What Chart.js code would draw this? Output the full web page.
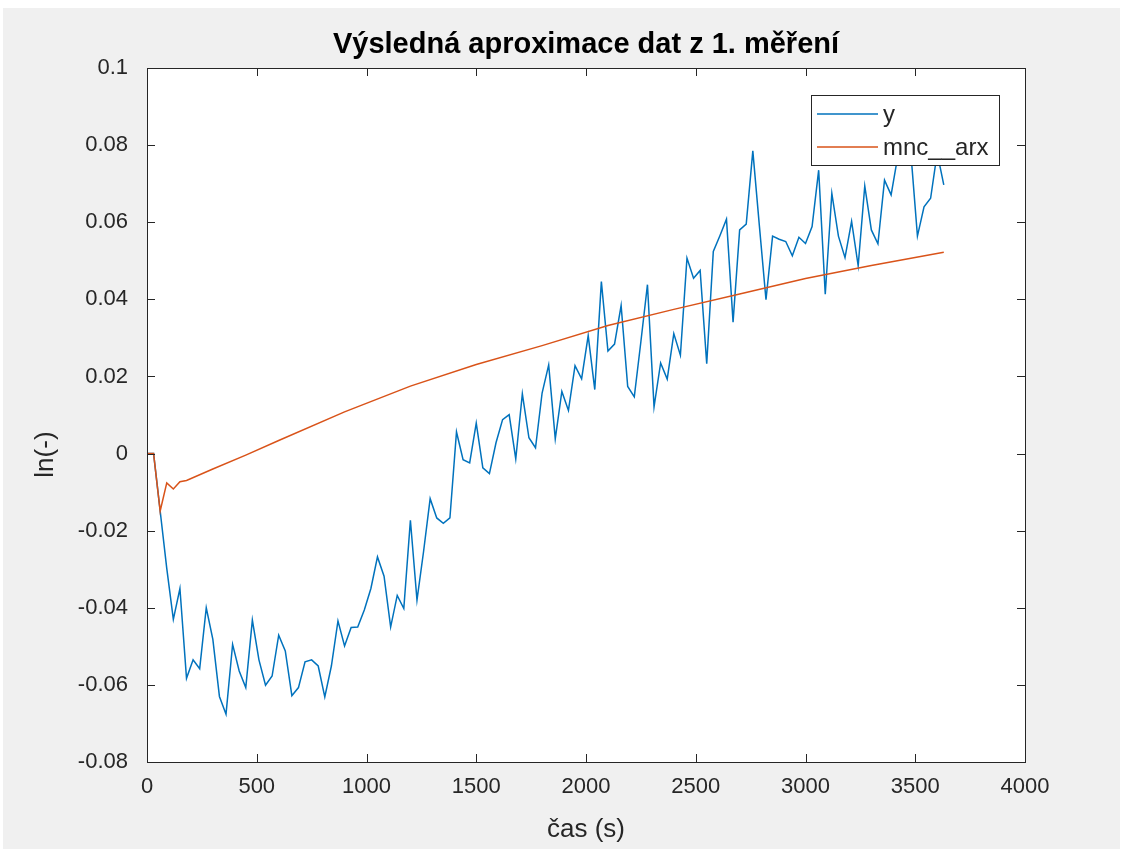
<!DOCTYPE html>
<html>
<head>
<meta charset="utf-8">
<title>Výsledná aproximace dat z 1. měření</title>
<script src="https://cdn.jsdelivr.net/npm/chart.js@4.4.1/dist/chart.umd.min.js"></script>
<style>
  html, body { margin: 0; padding: 0; background: #fff; }
  #fig { position: absolute; left: 3px; top: 8px; width: 1117px; height: 841px; background: #f0f0f0; }
  #graf { position: absolute; left: 0; top: 0; }
</style>
</head>
<body>
<div id="fig"></div>
<canvas id="graf" width="1126" height="849"></canvas>
<script>
// namerena data (cas v sekundach)
var casY = [0, 30, 60, 90, 120, 150, 180, 210, 240, 270, 300, 330, 360, 390, 420, 450, 480, 510, 540, 570,
    600, 630, 660, 690, 720, 750, 780, 810, 840, 870, 900, 930, 960, 990, 1020, 1050, 1080, 1110, 1140, 1170,
    1200, 1230, 1260, 1290, 1320, 1350, 1380, 1410, 1440, 1470, 1500, 1530, 1560, 1590, 1620, 1650, 1680, 1710, 1740, 1770,
    1800, 1830, 1860, 1890, 1920, 1950, 1980, 2010, 2040, 2070, 2100, 2130, 2160, 2190, 2220, 2250, 2280, 2310, 2340, 2370,
    2400, 2430, 2460, 2490, 2520, 2550, 2580, 2610, 2640, 2670, 2700, 2730, 2760, 2790, 2820, 2850, 2880, 2910, 2940, 2970,
    3000, 3030, 3060, 3090, 3120, 3150, 3180, 3210, 3240, 3270, 3300, 3330, 3360, 3390, 3420, 3450, 3480, 3510, 3540, 3570,
    3600, 3630];
var hodnotyY = [0, 0, -0.0149, -0.0298, -0.0430, -0.0350, -0.0583, -0.0535, -0.0558, -0.0400,
    -0.0482, -0.0630, -0.0676, -0.0495, -0.0564, -0.0607, -0.0432, -0.0535, -0.0601, -0.0577,
    -0.0471, -0.0512, -0.0628, -0.0607, -0.0540, -0.0535, -0.0551, -0.0631, -0.0551, -0.0434,
    -0.0499, -0.0451, -0.0450, -0.0406, -0.0350, -0.0268, -0.0318, -0.0450, -0.0368, -0.0402,
    -0.0173, -0.0380, -0.0254, -0.0117, -0.0167, -0.0181, -0.0167, 0.0056, -0.0016, -0.0024,
    0.0079, -0.0037, -0.0052, 0.0028, 0.0088, 0.0101, -0.0014, 0.0155, 0.0041, 0.0015,
    0.0157, 0.0230, 0.0038, 0.0161, 0.0112, 0.0228, 0.0194, 0.0306, 0.0166, 0.0446,
    0.0266, 0.0284, 0.0384, 0.0174, 0.0147, 0.0290, 0.0438, 0.0121, 0.0235, 0.0193,
    0.0311, 0.0255, 0.0507, 0.0455, 0.0475, 0.0233, 0.0524, 0.0565, 0.0608, 0.0341,
    0.0580, 0.0595, 0.0785, 0.0590, 0.0399, 0.0564, 0.0556, 0.0550, 0.0513, 0.0561,
    0.0545, 0.0589, 0.0735, 0.0413, 0.0675, 0.0564, 0.0508, 0.0602, 0.0487, 0.0694,
    0.0580, 0.0544, 0.0709, 0.0671, 0.0770, 0.0800, 0.0780, 0.0564, 0.0640, 0.0662,
    0.0780, 0.0697];

// vystup modelu mnc__arx
var casArx = [0, 30, 60, 90, 120, 150, 180, 300, 450, 600, 900, 1200, 1500, 1800, 2100, 2400, 2700, 3000, 3300, 3630];
var hodnotyArx = [0, 0, -0.0149, -0.0076, -0.0092, -0.0073, -0.0070, -0.0040, -0.0004, 0.0034,
    0.0108, 0.0175, 0.0231, 0.0280, 0.0332, 0.0374, 0.0414, 0.0454, 0.0488, 0.0522];

var xTicks = [0, 500, 1000, 1500, 2000, 2500, 3000, 3500, 4000];
var yTicks = [-0.08, -0.06, -0.04, -0.02, 0, 0.02, 0.04, 0.06, 0.08, 0.1];
var yTickLabels = ['-0.08', '-0.06', '-0.04', '-0.02', '0', '0.02', '0.04', '0.06', '0.08', '0.1'];

var nadpis = 'Výsledná aproximace dat z 1. měření';
var popisX = 'čas (s)';
var popisY = 'ln(-)';

var MODRA = '#0072BD';
var ORANZ = '#D95319';
var OSA = '#262626';
var PISMO = "'Liberation Sans', Arial, sans-serif";

function body(xs, ys) {
    return xs.map(function (x, i) { return { x: x, y: ys[i] }; });
}

// ramecek os, ticky dovnitr, nadpis, popis osy y a legenda v rohu
var ramecek = {
    id: 'ramecek',
    beforeDraw: function (chart) {
        var a = chart.chartArea, ctx = chart.ctx;
        ctx.save();
        ctx.fillStyle = '#fff';
        ctx.fillRect(a.left, a.top, a.right - a.left, a.bottom - a.top);
        ctx.restore();
    },
    afterDatasetsDraw: function (chart) {
        var a = chart.chartArea, ctx = chart.ctx;
        var sx = chart.scales.x, sy = chart.scales.y;
        var L = 8;
        ctx.save();
        ctx.strokeStyle = OSA;
        ctx.lineWidth = 1;
        ctx.beginPath();
        xTicks.forEach(function (v) {
            var p = Math.round(sx.getPixelForValue(v)) + 0.5;
            ctx.moveTo(p, a.bottom); ctx.lineTo(p, a.bottom - L);
            ctx.moveTo(p, a.top); ctx.lineTo(p, a.top + L);
        });
        yTicks.forEach(function (v) {
            var p = Math.round(sy.getPixelForValue(v)) + 0.5;
            ctx.moveTo(a.left, p); ctx.lineTo(a.left + L, p);
            ctx.moveTo(a.right, p); ctx.lineTo(a.right - L, p);
        });
        ctx.stroke();
        ctx.strokeRect(Math.round(a.left) + 0.5, Math.round(a.top) + 0.5,
            Math.round(a.right - a.left), Math.round(a.bottom - a.top));

        // nadpis nad osami
        ctx.fillStyle = '#000';
        ctx.font = 'bold 29px ' + PISMO;
        ctx.textAlign = 'center';
        ctx.textBaseline = 'middle';
        ctx.fillText(nadpis, (a.left + a.right) / 2, 45);

        // popis osy y
        ctx.save();
        ctx.translate(46, sy.getPixelForValue(0) + 1);
        ctx.rotate(-Math.PI / 2);
        ctx.fillStyle = OSA;
        ctx.font = '26px ' + PISMO;
        ctx.fillText(popisY, 0, 0);
        ctx.restore();

        // legenda
        var bx = 811, by = 95, bw = 188, bh = 70;
        ctx.fillStyle = '#fff';
        ctx.fillRect(bx, by, bw, bh);
        ctx.strokeRect(bx + 0.5, by + 0.5, bw, bh);
        ctx.font = '24px ' + PISMO;
        ctx.textAlign = 'left';
        ctx.textBaseline = 'middle';
        var radky = [114, 147];
        chart.data.datasets.forEach(function (ds, i) {
            ctx.strokeStyle = ds.borderColor;
            ctx.lineWidth = 1.5;
            ctx.beginPath();
            ctx.moveTo(817, radky[i]);
            ctx.lineTo(878, radky[i]);
            ctx.stroke();
            ctx.fillStyle = OSA;
            ctx.fillText(ds.label, 883, radky[i] + 1);
        });
        ctx.restore();
    }
};

var ctx = document.getElementById('graf').getContext('2d');
var graf = new Chart(ctx, {
    type: 'line',
    data: {
        datasets: [{
            label: 'y',
            data: body(casY, hodnotyY),
            borderColor: MODRA,
            borderWidth: 1.5,
            pointRadius: 0,
            fill: false,
            order: 1
        }, {
            label: 'mnc__arx',
            data: body(casArx, hodnotyArx),
            borderColor: ORANZ,
            borderWidth: 1.5,
            pointRadius: 0,
            fill: false,
            order: 0
        }]
    },
    options: {
        responsive: false,
        animation: false,
        layout: { padding: { left: 0, right: 101, top: 68, bottom: 0 } },
        plugins: {
            legend: { display: false },
            tooltip: { enabled: false },
            title: { display: false }
        },
        scales: {
            x: {
                type: 'linear',
                min: 0,
                max: 4000,
                afterBuildTicks: function (s) { s.ticks = xTicks.map(function (v) { return { value: v }; }); },
                afterFit: function (s) { s.height = 87; },
                grid: { display: false, drawTicks: false },
                border: { display: false },
                ticks: {
                    color: OSA,
                    padding: 12,
                    maxRotation: 0,
                    font: { family: PISMO, size: 22 },
                    callback: function (v) { return String(v); }
                },
                title: {
                    display: true,
                    text: popisX,
                    color: OSA,
                    font: { family: PISMO, size: 26, lineHeight: 1.2 },
                    padding: { top: 0, bottom: 3.4 }
                }
            },
            y: {
                type: 'linear',
                min: -0.08,
                max: 0.1,
                afterBuildTicks: function (s) { s.ticks = yTicks.map(function (v) { return { value: v }; }); },
                afterFit: function (s) { s.width = 147; },
                grid: { display: false, drawTicks: false },
                border: { display: false },
                ticks: {
                    color: OSA,
                    padding: 19,
                    font: { family: PISMO, size: 22 },
                    callback: function (v, i) { return yTickLabels[i]; }
                },
                title: { display: false }
            }
        }
    },
    plugins: [ramecek]
});
</script>
</body>
</html>
